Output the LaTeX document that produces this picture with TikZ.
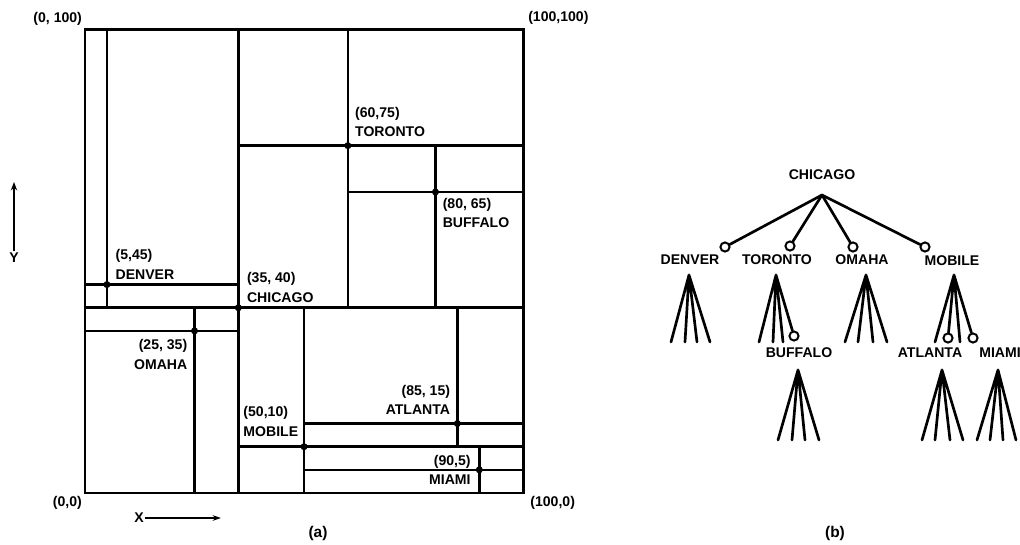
\documentclass[tikz,border=0pt]{standalone}
\usepackage{fontspec}
\setmainfont{Liberation Sans}
\usetikzlibrary{arrows.meta}

\begin{document}
\begin{tikzpicture}[x=0.025cm, y=-0.025cm,
  every node/.style={font=\fontsize{10}{14}\selectfont\bfseries, inner sep=1pt},
  wall/.style={line width=1.8pt},
  city/.style={circle, fill=black, inner sep=0pt, minimum size=5pt},
  ring/.style={circle, draw=black, line width=1.4pt, inner sep=0pt, minimum size=6.5pt},
  leg/.style={line width=1.9pt, line cap=round}]

\useasboundingbox (0,0) rectangle (1020,545);

% (a) plano
\begin{scope}[shift={(85,493)}, x=0.1095cm, y=0.11575cm]
\coordinate (SW) at (0,0);
\coordinate (SE) at (100,0);
\coordinate (NW) at (0,100);
\coordinate (NE) at (100,100);
\draw[line width=2pt] (SW) rectangle (NE);

% particiones
\draw[wall] (35,0) -- (35,100);
\draw[wall] (0,40) -- (100,40);
\draw[wall] (60,40) -- (60,100);
\draw[wall] (35,75) -- (100,75);
\draw[wall] (80,40) -- (80,75);
\draw[wall] (60,65) -- (100,65);
\draw[wall] (5,40) -- (5,100);
\draw[wall] (0,45) -- (35,45);
\draw[wall] (25,0) -- (25,40);
\draw[wall] (0,35) -- (35,35);
\draw[wall] (50,0) -- (50,40);
\draw[wall] (35,10) -- (100,10);
\draw[wall] (85,10) -- (85,40);
\draw[wall] (50,15) -- (100,15);
\draw[wall] (90,0) -- (90,10);
\draw[wall] (50,5) -- (100,5);

% ciudades
\node[city] (chi) at (35,40) {};
\node[city] (tor) at (60,75) {};
\node[city] (buf) at (80,65) {};
\node[city] (den) at (5,45) {};
\node[city] (oma) at (25,35) {};
\node[city] (mob) at (50,10) {};
\node[city] (atl) at (85,15) {};
\node[city] (mia) at (90,5) {};
\end{scope}

% etiquetas del plano
\node[anchor=south west, align=left] (torL) at ([xshift=4pt,yshift=5pt]tor.center) {(60,75)\\TORONTO};
\node[anchor=north west, align=left] (bufL) at ([xshift=4pt,yshift=-3pt]buf.center) {(80, 65)\\BUFFALO};
\node[anchor=south west, align=left] (denL) at ([xshift=5pt,yshift=2.5pt]den.center) {(5,45)\\DENVER};
\node[anchor=south west, align=left] (chiL) at ([xshift=5pt,yshift=2.5pt]chi.center) {(35, 40)\\CHICAGO};
\node[anchor=north east, align=right] (omaL) at ([xshift=-4pt,yshift=-5pt]oma.center) {(25, 35)\\OMAHA};
\node[anchor=south east, align=right] (atlL) at ([xshift=-4pt,yshift=5pt]atl.center) {(85, 15)\\ATLANTA};
\node[anchor=south east, align=left] (mobL) at ([xshift=-3pt,yshift=6pt]mob.center) {(50,10)\\MOBILE};
\node[anchor=east, align=right] (miaL) at ([xshift=-5pt]mia.center) {(90,5)\\MIAMI};

\node[anchor=south east] (nwL) at ([xshift=-1pt,yshift=2pt]NW) {(0, 100)};
\node[anchor=south west] (neL) at ([xshift=2.5pt,yshift=3pt]NE) {(100,100)};
\node[anchor=north east] (swL) at ([xshift=-1pt,yshift=-1pt]SW) {(0,0)};
\node[anchor=north west] (seL) at ([xshift=4pt,yshift=-1pt]SE) {(100,0)};

% ejes
\node (yL) at (14,258) {Y};
\coordinate (yT) at (14,182);
\draw[line width=1.8pt, -{Stealth[length=6pt,width=4.5pt]}] (yL) -- (yT);
\node (xL) at (139,518) {X};
\coordinate (xT) at (221,518);
\draw[line width=1.3pt, -{Stealth[length=6pt,width=4pt]}] (xL) -- (xT);

\node[font=\fontsize{11}{13}\selectfont\bfseries] (capA) at (318,533) {(a)};
\node[font=\fontsize{11}{13}\selectfont\bfseries] (capB) at (835,533) {(b)};

% (b) arbol
\node (tChi) at (822,175) {CHICAGO};
\coordinate (tChiA) at (822,195);

\node[ring] (tDenR) at (725,247) {};
\node[ring] (tTorR) at (790,246) {};
\node[ring] (tOmaR) at (853,247) {};
\node[ring] (tMobR) at (925,247) {};
\draw[leg] (tChiA) -- (tDenR);
\draw[leg] (tChiA) -- (tTorR);
\draw[leg] (tChiA) -- (tOmaR);
\draw[leg] (tChiA) -- (tMobR);

\node (tDen) at (690,260) {DENVER};
\node (tTor) at (777,260) {TORONTO};
\node (tOma) at (862,260) {OMAHA};
\node (tMob) at (952,261) {MOBILE};

% abanicos DENVER
\coordinate (tDenA) at (689,275);
\coordinate (d1) at (671,342); \coordinate (d2) at (685,342);
\coordinate (d3) at (697,342); \coordinate (d4) at (710,342);
\draw[leg] (tDenA) -- (d1) (tDenA) -- (d2) (tDenA) -- (d3) (tDenA) -- (d4);

% TORONTO
\coordinate (tTorA) at (776,275);
\coordinate (t1) at (759,342); \coordinate (t2) at (773,342);
\coordinate (t3) at (783,342);
\node[ring] (tBufR) at (794,336) {};
\draw[leg] (tTorA) -- (t1) (tTorA) -- (t2) (tTorA) -- (t3) (tTorA) -- (tBufR);

% OMAHA
\coordinate (tOmaA) at (866,275);
\coordinate (o1) at (845,342); \coordinate (o2) at (858,342);
\coordinate (o3) at (873,342); \coordinate (o4) at (887,342);
\draw[leg] (tOmaA) -- (o1) (tOmaA) -- (o2) (tOmaA) -- (o3) (tOmaA) -- (o4);

% MOBILE
\coordinate (tMobA) at (954,275);
\coordinate (m1) at (935,342); \coordinate (m3) at (960,342);
\node[ring] (tAtlR) at (948,338) {};
\node[ring] (tMiaR) at (973,338) {};
\draw[leg] (tMobA) -- (m1) (tMobA) -- (tAtlR) (tMobA) -- (m3) (tMobA) -- (tMiaR);

\node (tBuf) at (799,353) {BUFFALO};
\node (tAtl) at (930,353) {ATLANTA};
\node (tMia) at (1000,353) {MIAMI};

% BUFFALO
\coordinate (tBufA) at (798,370);
\coordinate (b1) at (778,440); \coordinate (b2) at (792,440);
\coordinate (b3) at (805,440); \coordinate (b4) at (819,440);
\draw[leg] (tBufA) -- (b1) (tBufA) -- (b2) (tBufA) -- (b3) (tBufA) -- (b4);

% ATLANTA
\coordinate (tAtlA) at (942,370);
\coordinate (a1) at (922,440); \coordinate (a2) at (935,440);
\coordinate (a3) at (950,440); \coordinate (a4) at (963,440);
\draw[leg] (tAtlA) -- (a1) (tAtlA) -- (a2) (tAtlA) -- (a3) (tAtlA) -- (a4);

% MIAMI
\coordinate (tMiaA) at (998,370);
\coordinate (i1) at (977,440); \coordinate (i2) at (990,440);
\coordinate (i3) at (1003,440); \coordinate (i4) at (1016,440);
\draw[leg] (tMiaA) -- (i1) (tMiaA) -- (i2) (tMiaA) -- (i3) (tMiaA) -- (i4);

\end{tikzpicture}
\end{document}
